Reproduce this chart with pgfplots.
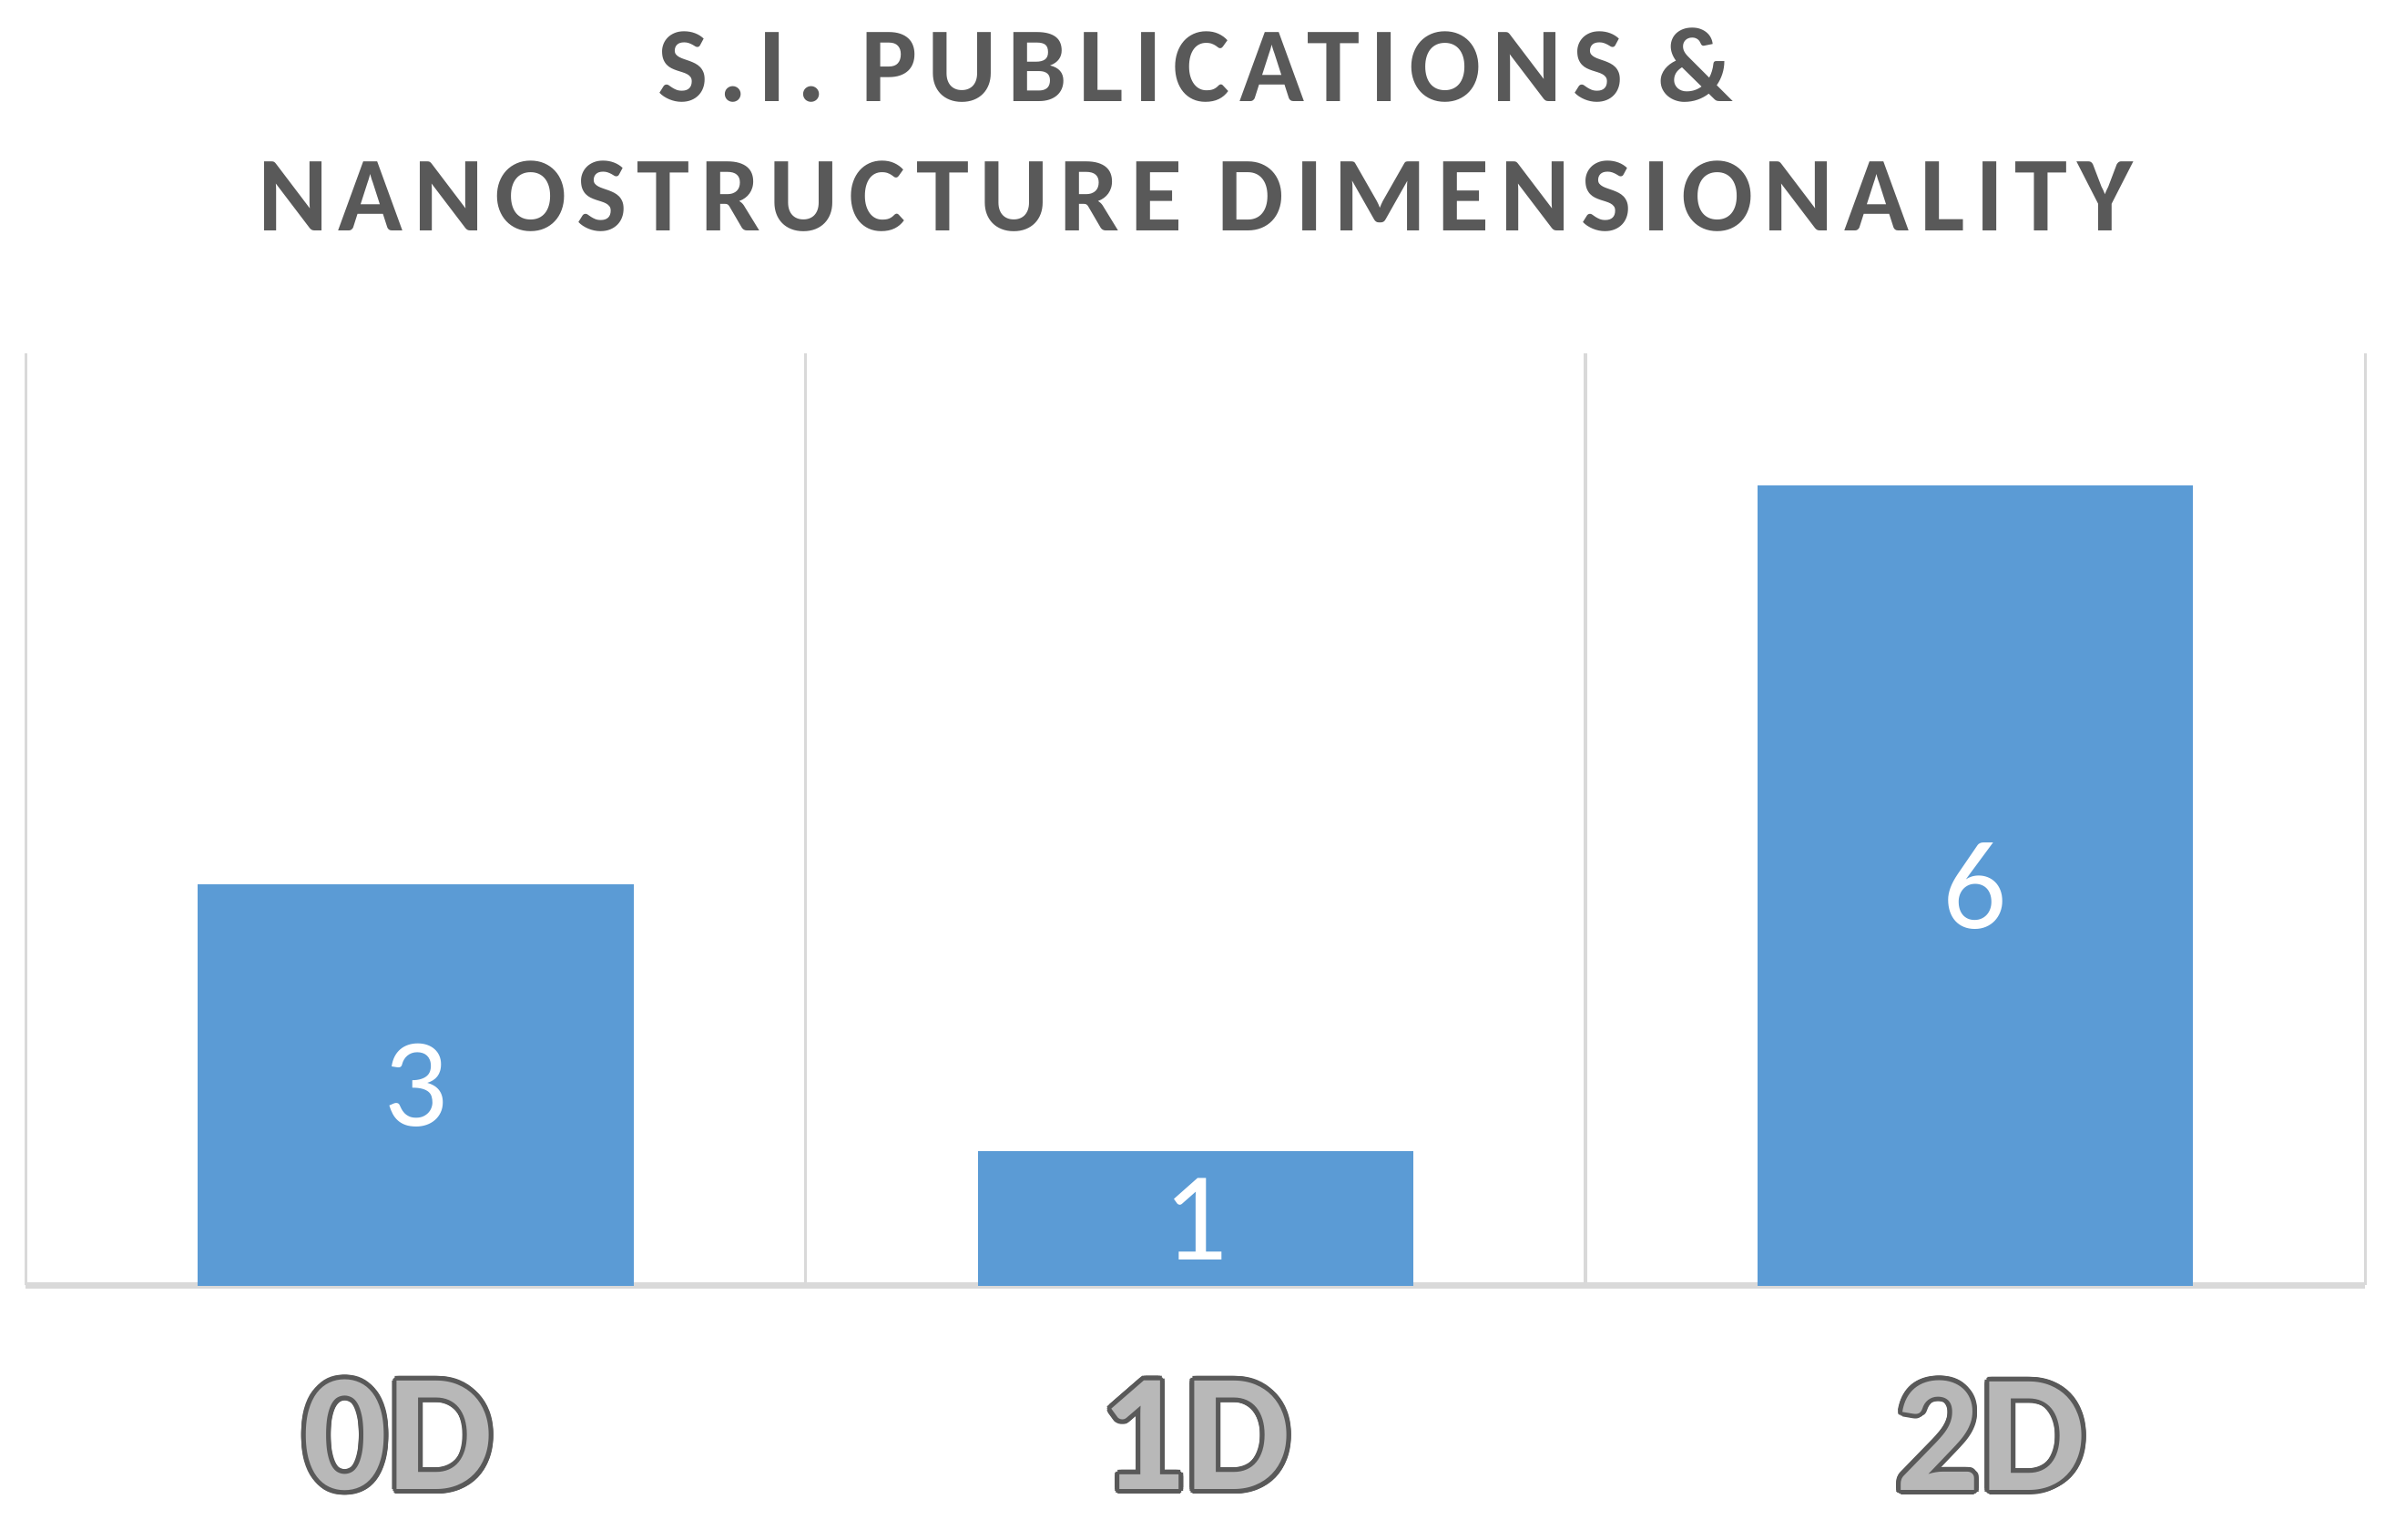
\documentclass[border=0pt]{standalone}
\usepackage{fontspec}
\setmainfont{Carlito}
\usepackage{pgfplots}
\pgfplotsset{compat=1.18}
\usepackage{contour}
\contourlength{0.9pt}

\definecolor{barblue}{HTML}{5B9BD5}
\definecolor{gridgray}{HTML}{D9D9D9}
\definecolor{titlegray}{HTML}{595959}
\definecolor{lblfill}{HTML}{B8B8B8}

% outlined category label
\newcommand\lbl[1]{\textcolor{lblfill}{\contour{titlegray}{#1}}}

\begin{document}
\begin{tikzpicture}
\begin{axis}[
  name=ax,
  at={(0,0)}, anchor=south west,
  scale only axis,
  width=461.4pt, height=183.9pt,
  xmin=-0.5, xmax=2.5,
  ymin=0, ymax=7,
  ybar, bar width=0.556,
  axis x line=bottom, axis y line=none,
  axis line style={-, gridgray, line width=1.4pt},
  xtick={0,1,2},
  xticklabels={\lbl{0D}\kern7pt,\lbl{1D},\kern6pt\lbl{2D}},
  major tick length=0pt,
  minor xtick={-0.5,0.5,1.5,2.5},
  minor tick length=0pt,
  xminorgrids=true,
  minor x grid style={gridgray, line width=0.6pt},
  xticklabel style={font=\fontsize{33}{33}\selectfont\bfseries, anchor=center, yshift=-30pt},
  /pgf/number format/assume math mode=true,
  nodes near coords,
  visualization depends on={y \as \rawy},
  every node near coord/.append style={white, font=\fontsize{25}{25}\selectfont,
    anchor=center, shift={(axis direction cs:0,-\rawy/2)}},
]
\addplot[fill=barblue, draw=barblue] coordinates {(0,3) (1,1) (2,6)};
\end{axis}
\node[anchor=base, yshift=49.5pt, text=titlegray,
  font=\fontsize{21}{21}\selectfont\bfseries\addfontfeatures{LetterSpace=10}]
  at (ax.north) {S.I. PUBLICATIONS \&};
\node[anchor=base, yshift=24pt, text=titlegray,
  font=\fontsize{21}{21}\selectfont\bfseries\addfontfeatures{LetterSpace=10}]
  at (ax.north) {NANOSTRUCTURE DIMENSIONALITY};
\pgfresetboundingbox
\path[use as bounding box] ([shift={(-5.1pt,-50.1pt)}]ax.south west) rectangle ([shift={(465.3pt,253.5pt)}]ax.south west);
\end{tikzpicture}
\end{document}
